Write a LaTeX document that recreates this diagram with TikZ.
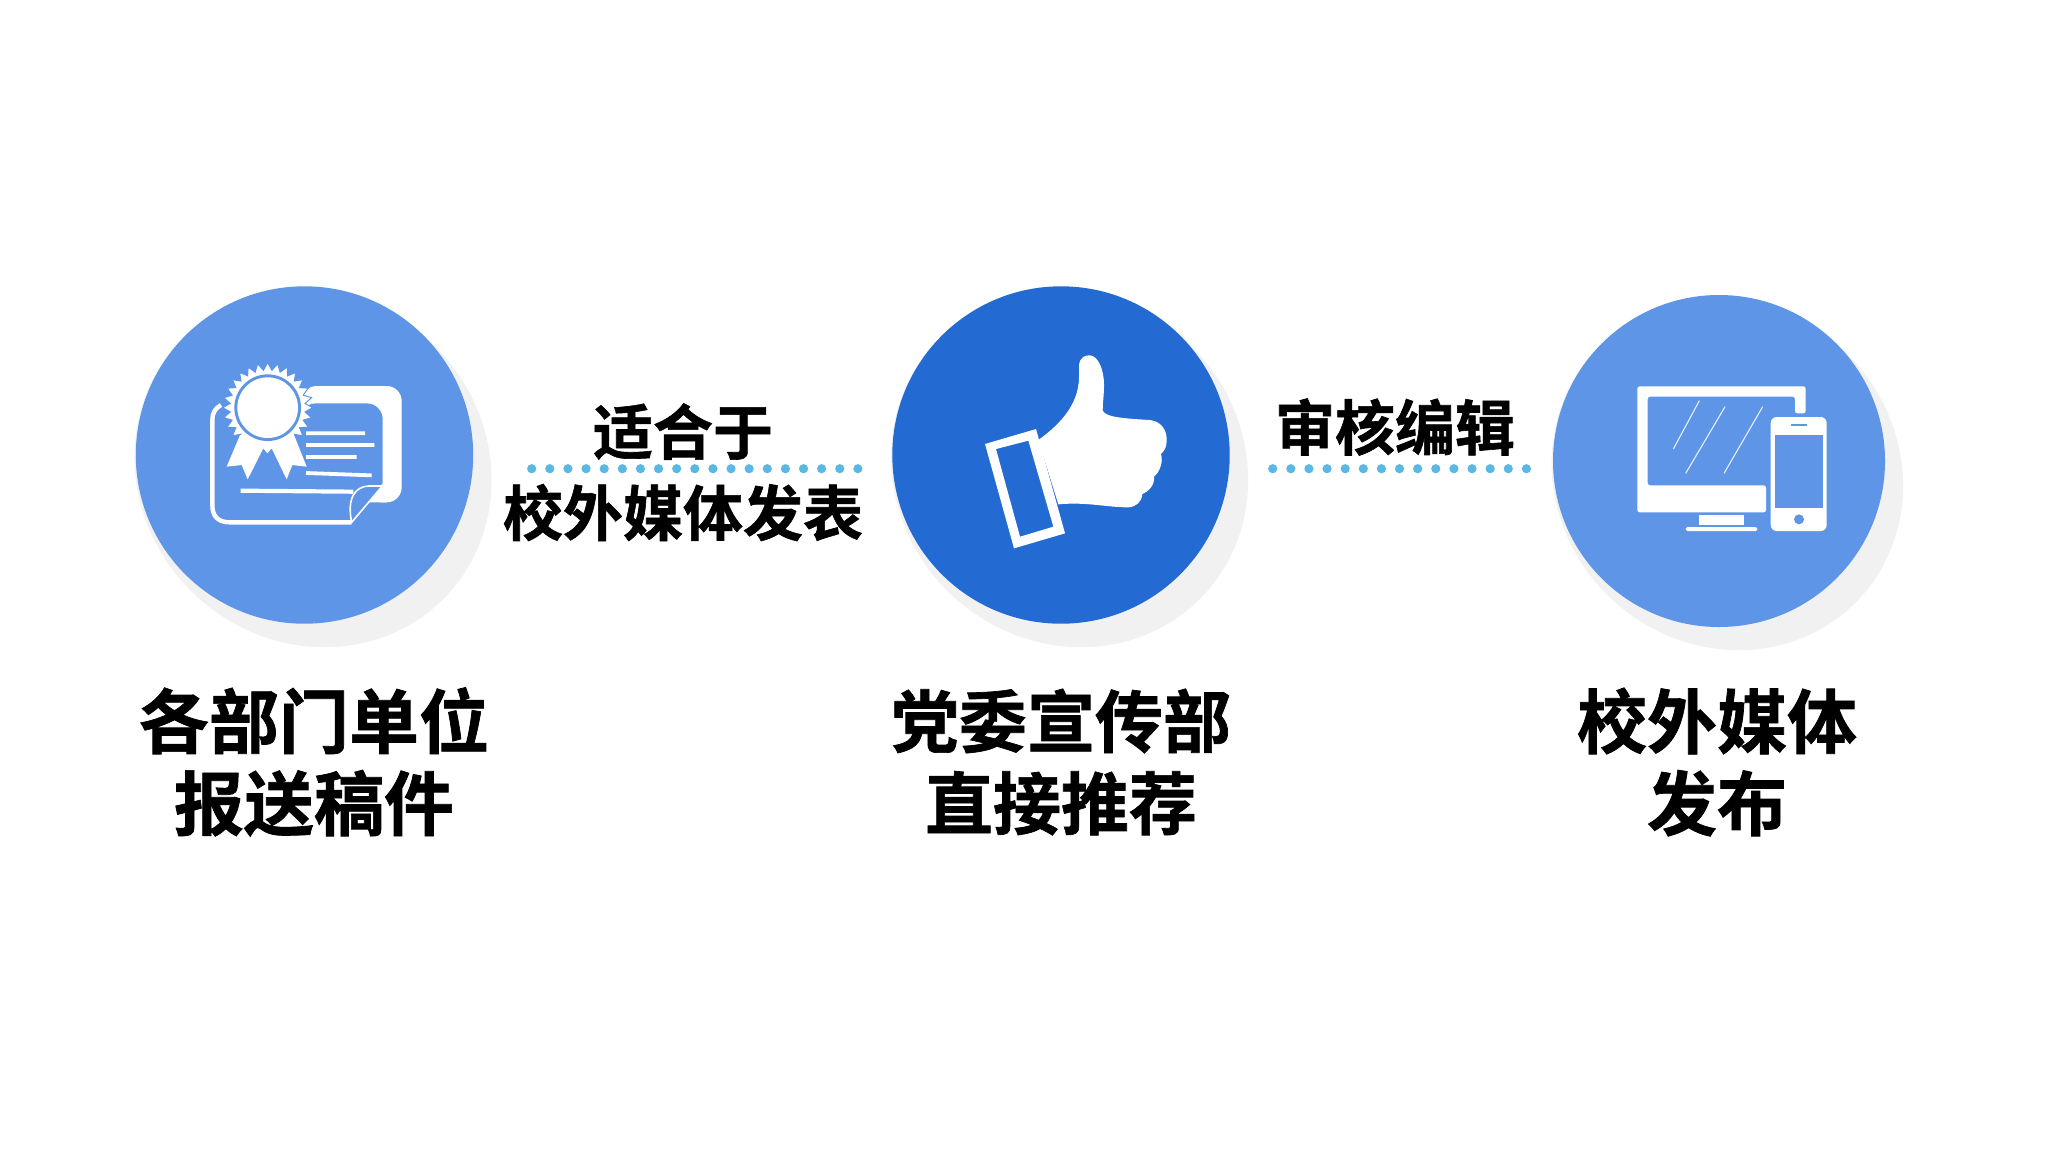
\documentclass[tikz,border=0pt]{standalone}
\usepackage{fontspec}
\usetikzlibrary{shapes.geometric}
\setmainfont{Noto Sans CJK SC}
\newfontfamily\cjkb[FakeBold=1]{Noto Sans CJK SC Bold}
\definecolor{lightblue}{HTML}{5E95E6}
\definecolor{deepblue}{HTML}{236BD2}
\definecolor{shadowgrey}{HTML}{F1F1F2}
\definecolor{dotblue}{HTML}{5BB8E4}
\tikzset{
  disc/.style={circle,inner sep=0pt,outer sep=0pt,minimum size=#1},
  shade1/.style={shape=ellipse,rotate=-45,inner sep=0pt,outer sep=0pt,fill=shadowgrey,minimum width=184.3pt,minimum height=172.7pt},
  shade2/.style={shape=ellipse,rotate=-45,inner sep=0pt,outer sep=0pt,fill=shadowgrey,minimum width=181.3pt,minimum height=170pt},
  bigtext/.style={font=\fontsize{35}{41}\selectfont\cjkb,align=center,text=black,inner sep=0pt},
  bigtextb/.style={font=\fontsize{34}{41}\selectfont\cjkb,align=center,text=black,inner sep=0pt},
  midtext/.style={font=\fontsize{30}{36}\selectfont\cjkb,align=center,text=black,inner sep=0pt},
  dotline/.style={dotblue,line width=4.6pt,line cap=round,dash pattern=on 0pt off 9.06pt},
  zoomed/.style={x=0.16667pt,y=-0.16667pt},
}
\begin{document}
\begin{tikzpicture}[x=0.5pt,y=-0.5pt]
\useasboundingbox[fill=white] (0,0) rectangle (2048,1152);
% shadows
\node[shade1] (s1) at (313,468.6) {};
\node[shade1] (s2) at (1069.5,468.6) {};
\node[shade2] (s3) at (1727.3,474.4) {};
% circles
\node[disc=168.7pt,fill=lightblue] (c1) at (304.5,455) {};
\node[disc=168.7pt,fill=deepblue] (c2) at (1061,455) {};
\node[disc=166pt,fill=lightblue] (c3) at (1719,461) {};
% connectors
\coordinate (d1a) at (531.7,468.7);
\coordinate (d1b) at (860,468.7);
\coordinate (d2a) at (1272.7,468.7);
\coordinate (d2b) at (1529,468.7);
\draw[dotline] (d1a) -- (d1b);
\draw[dotline] (d2a) -- (d2b);
% labels
\node[bigtext] (t1) at (314,762) {各部门单位\\报送稿件};
\node[bigtextb] (t2) at (1061,762) {党委宣传部\\直接推荐};
\node[bigtext] (t3) at (1717,762) {校外媒体\\发布};
\node[midtext] (l1a) at (683,431.6) {适合于};
\node[midtext] (l1b) at (683,512.5) {校外媒体发表};
\node[midtext] (l2) at (1395,427) {审核编辑};
% certificate icon
\begin{scope}[shift={(120,270)}]
\begin{scope}[zoomed]
\fill[white,rounded corners=7.5pt] (545,348) -- (845,348) -- (845,697) -- (740,697) -- (740,600) -- (545,600) -- cycle;
\fill[lightblue,rounded corners=8pt] (540,400) -- (788,400) -- (788,720) -- (540,720) -- cycle;
\fill[white] (788,640) -- (800,697) -- (742,697) -- cycle;
\draw[white,line width=2.2pt] (303,405) .. controls (285,415) and (277,430) .. (277,450) -- (277,705) .. controls (277,740) and (295,757) .. (330,757) -- (695,757);
\draw[white,line width=1.9pt] (558,490) -- (735,490) (558,525) -- (763,525) (558,561) -- (710,561) (558,609) -- (755,616);
\draw[white,line width=2.1pt] (362,662) -- (700,665);
\fill[white,draw=lightblue,line width=0.5pt] plot[samples at={0,...,55},variable=\k] ({443+(mod(\k,2)==0?135:113)*cos(\k*6.42857)},{413+(mod(\k,2)==0?135:113)*sin(\k*6.42857)}) -- cycle;
\fill[white] (360,495) -- (320,590) -- (365,585) -- (383,628) -- (430,535) -- (442,550) -- (455,535) -- (500,628) -- (517,585) -- (560,590) -- (522,495) -- cycle;
\fill[lightblue] (443,413) circle[radius=100];
\fill[white] (443,413) circle[radius=91];
\fill[lightblue,draw=white,line width=0.8pt,line join=round] (695,757) -- (787,648) -- (745,648) .. controls (705,650) and (680,685) .. (695,757) -- cycle;
\end{scope}
\end{scope}
% thumb icon
\begin{scope}[shift={(880,270)}]
\begin{scope}[zoomed]
\fill[white,even odd rule] (315,522) -- (468,477) -- (555,790) -- (402,835) -- cycle (348,537) -- (445,512) -- (520,770) -- (420,800) -- cycle;
\fill[white] (475,510) .. controls (530,470) and (597,410) .. (597,320) -- (597,285) .. controls (600,262) and (615,255) .. (630,256) .. controls (655,258) and (672,300) .. (672,345) .. controls (672,375) and (668,400) .. (668,420) .. controls (672,440) and (720,445) .. (810,450) .. controls (845,455) and (860,480) .. (860,510) .. controls (860,530) and (855,540) .. (843,552) .. controls (850,575) and (840,605) .. (822,620) .. controls (825,645) and (805,665) .. (787,672) .. controls (785,695) and (770,710) .. (745,712) .. controls (680,712) and (620,695) .. (535,703) -- cycle;
\end{scope}
\end{scope}
% devices icon
\begin{scope}[shift={(1540,280)}]
\begin{scope}[zoomed]
\fill[white,rounded corners=1.2pt] (292,319) -- (797,319) -- (797,400) -- (765,400) -- (765,350) -- (323,350) -- (323,616) -- (678,616) -- (678,697) -- (292,697) -- cycle;
\fill[white] (477,705) rectangle (612,735);
\fill[white,rounded corners=0.8pt] (437,741) rectangle (652,753);
\draw[white!85!lightblue,line width=0.55pt] (478,362) -- (400,507) (555,380) -- (437,580) (668,380) -- (552,580);
\fill[white,rounded corners=3pt] (692,411) rectangle (860,753);
\fill[lightblue] (705,464) rectangle (850,685);
\fill[lightblue] (753,431) rectangle (800,437);
\fill[lightblue] (777,718) circle[radius=15];
\end{scope}
\end{scope}
\end{tikzpicture}
\end{document}
